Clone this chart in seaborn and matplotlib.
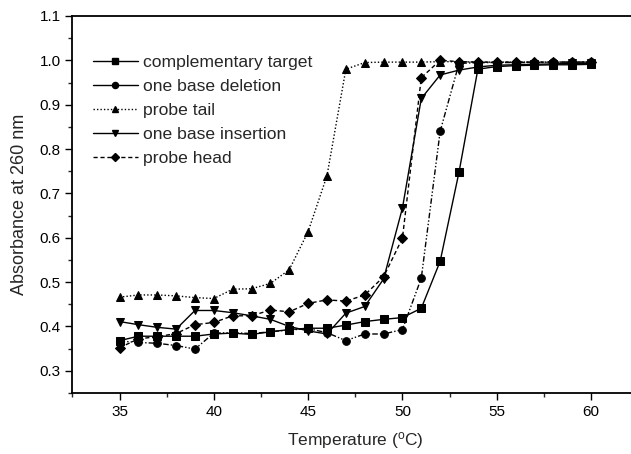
import numpy as np
import pandas as pd
import matplotlib
matplotlib.use("Agg")
import matplotlib.pyplot as plt
import seaborn as sns
from matplotlib.lines import Line2D
from matplotlib.ticker import MultipleLocator

temps = list(range(35, 61))
complementary = [0.368, 0.378, 0.378, 0.378, 0.378, 0.383, 0.385, 0.382, 0.388, 0.393,
                 0.396, 0.396, 0.403, 0.411, 0.416, 0.420, 0.441, 0.547, 0.748, 0.980,
                 0.986, 0.988, 0.989, 0.990, 0.990, 0.991]
deletion = [0.367, 0.364, 0.362, 0.357, 0.349, 0.385, 0.386, 0.384, 0.388, 0.392,
            0.395, 0.386, 0.368, 0.383, 0.383, 0.393, 0.509, 0.840, 0.993, 0.995,
            0.995, 0.995, 0.995, 0.996, 0.996, 0.996]
tail = [0.466, 0.471, 0.471, 0.469, 0.465, 0.463, 0.484, 0.485, 0.497, 0.528,
        0.614, 0.740, 0.980, 0.995, 0.996, 0.996, 0.996, 0.997, 0.997, 0.996,
        0.996, 0.996, 0.996, 0.996, 0.996, 0.996]
insertion = [0.411, 0.404, 0.398, 0.394, 0.436, 0.436, 0.431, 0.424, 0.416, 0.400,
             0.390, 0.383, 0.430, 0.445, 0.507, 0.667, 0.914, 0.967, 0.978, 0.985,
             0.989, 0.990, 0.991, 0.992, 0.993, 0.993]
head = [0.352, 0.372, 0.377, 0.384, 0.404, 0.409, 0.424, 0.424, 0.437, 0.433,
        0.452, 0.460, 0.457, 0.471, 0.512, 0.599, 0.961, 1.000, 0.997, 0.996,
        0.996, 0.996, 0.996, 0.996, 0.996, 0.996]

labels = ["complementary target", "one base deletion", "probe tail",
          "one base insertion", "probe head"]
series = [complementary, deletion, tail, insertion, head]
markers = ["s", "o", "^", "v", "D"]
plot_styles = ["-", (0, (4, 1.5, 1, 1.5, 1, 1.5)), (0, (1, 1.5)), "-", (0, (3, 2))]
legend_styles = ["-", "-", (0, (1, 1.5)), "-", (0, (3, 2))]
msizes = [5.5, 5.5, 6, 6, 5]

sns.set_style("ticks")
plt.rcParams['font.family'] = ['Liberation Sans', 'DejaVu Sans']
plt.rcParams['mathtext.default'] = 'regular'

fig = plt.figure(figsize=(6.31, 4.54), dpi=100)
ax = fig.add_axes([0.1147, 0.1344, 0.8967, 0.8304])

for vals, lab, mk, ls, ms in zip(series, labels, markers, plot_styles, msizes):
    df = pd.DataFrame({"T": temps, "A": vals})
    sns.lineplot(data=df, x="T", y="A", ax=ax, color="black", marker=mk,
                 markersize=ms, markeredgecolor="black", linewidth=1.0,
                 linestyle=ls, legend=False)

ax.set_xlim(32.5, 62.5)
ax.set_ylim(0.25, 1.1)
ax.xaxis.set_minor_locator(MultipleLocator(2.5))
ax.yaxis.set_minor_locator(MultipleLocator(0.05))
ax.set_xticks([35, 40, 45, 50, 55, 60])
ax.set_yticks([0.3, 0.4, 0.5, 0.6, 0.7, 0.8, 0.9, 1.0, 1.1])
ax.set_yticklabels(["0.3", "0.4", "0.5", "0.6", "0.7", "0.8", "0.9", "1.0", "1.1"])
ax.tick_params(axis="both", which="major", direction="out", length=5, width=1,
               labelsize=11, colors="black")
ax.tick_params(axis="both", which="minor", direction="out", length=3, width=1)
for s in ["left", "bottom", "top", "right"]:
    ax.spines[s].set_linewidth(1.3)
    ax.spines[s].set_color("black")

ax.set_xlabel(r"Temperature ($^{o}$C)", fontsize=12.5, labelpad=8)
ax.set_ylabel("Absorbance at 260 nm", fontsize=13, labelpad=8)

handles = [Line2D([0], [0], color="black", linestyle=ls, marker=mk, markersize=ms * 0.8,
                  linewidth=1.0)
           for ls, mk, ms in zip(legend_styles, markers, msizes)]
ax.legend(handles, labels, loc="upper left", bbox_to_anchor=(0.036, 0.896),
          frameon=False, fontsize=12.6, handlelength=2.6, handletextpad=0.3,
          labelspacing=0.5, borderpad=0, borderaxespad=0)

fig.savefig("out.png", dpi=100)
